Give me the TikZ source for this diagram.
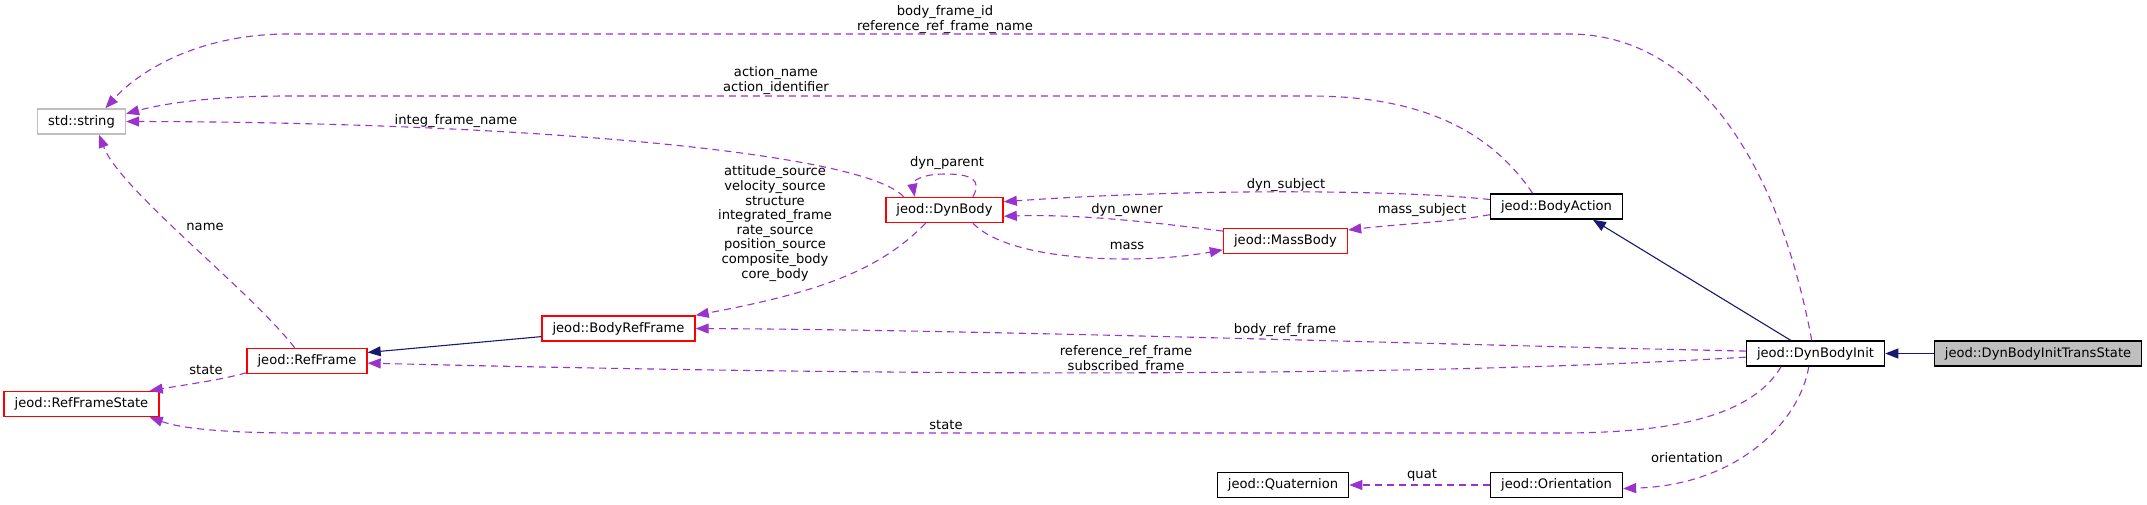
\documentclass[tikz,border=0pt]{standalone}
\usepackage{fontspec}
\setmainfont{DejaVu Sans}
\usetikzlibrary{arrows.meta}
\definecolor{usecol}{HTML}{9A32CD}
\definecolor{inhcol}{HTML}{191970}
\definecolor{trunccol}{HTML}{FF0000}
\definecolor{stdcol}{HTML}{BFBFBF}

\begin{document}
\begin{tikzpicture}[
    x=1pt, y=-1pt,
    cls/.style={
        rectangle, draw=#1, fill=white, line width=1.5pt,
        minimum height=25pt, inner xsep=10.5pt, inner ysep=0pt,
        font=\fontsize{13.1}{14.6}\selectfont
    },
    cls/.default=black,
    lbl/.style={font=\fontsize{13.1}{14.6}\selectfont, inner sep=0pt, align=center},
    use/.style={draw=usecol, line width=1.1pt, dash pattern=on 7pt off 5pt,
        -{Triangle[length=13pt,width=10pt]}},
    inh/.style={draw=inhcol, line width=1.1pt, -{Triangle[length=13pt,width=10pt]}}
]
\useasboundingbox (0,0) rectangle (2147,504);

% Classes
\node[cls=stdcol] (str) at (81.5,121.5) {std::string};
\node[cls=trunccol] (dynbody) at (944.5,210) {jeod::DynBody};
\node[cls=trunccol] (massbody) at (1285.5,241) {jeod::MassBody};
\node[cls] (bodyaction) at (1556.5,206.5) {jeod::BodyAction};
\node[cls=trunccol] (bodyref) at (618.5,328.5) {jeod::BodyRefFrame};
\node[cls=trunccol] (refframe) at (307,361) {jeod::RefFrame};
\node[cls=trunccol] (rfstate) at (81.5,404) {jeod::RefFrameState};
\node[cls] (init) at (1815.5,353.5) {jeod::DynBodyInit};
\node[cls, fill=stdcol] (trans) at (2038,353.5) {jeod::DynBodyInitTransState};
\node[cls] (quat) at (1283,485) {jeod::Quaternion};
\node[cls] (orient) at (1556.5,485) {jeod::Orientation};

% Inheritance
\draw[inh] (trans.west) -- (init.east);
\draw[inh] (init.152) -- (bodyaction.-20);
\draw[inh] (bodyref.186) -- (refframe.8);

% Usage to std::string
\draw[use] (init.106) .. controls (1780,170) and (1700,34) .. (1569,34) -- (288,34)
    .. controls (200,34) and (140,70) .. (str.29);
\node[lbl] (lframeid) at (945,19.5) {body\_frame\_id\\reference\_ref\_frame\_name};
\draw[use] (bodyaction.151) .. controls (1490,130) and (1420,96) .. (1310,96) -- (288,96)
    .. controls (220,96) and (170,102) .. (str.10);
\node[lbl] (lactname) at (776,80.5) {action\_name\\action\_identifier};
\draw[use] (dynbody.162) .. controls (860,150) and (500,122) .. (str.east);
\node[lbl] (linteg) at (456,121) {integ\_frame\_name};
\draw[use] (refframe.133) .. controls (250,290) and (120,190) .. (str.-37);
\node[lbl] (lname) at (205,227) {name};

% DynBody links
\draw[use] (dynbody.25) .. controls (982,180) and (972,174) .. (945,174)
    .. controls (920,174) and (912,182) .. (dynbody.156);
\node[lbl] (lparent) at (947,163) {dyn\_parent};
\draw[use] (bodyaction.174) .. controls (1400,190) and (1200,188) .. (dynbody.8);
\node[lbl] (lsubject) at (1286,185) {dyn\_subject};
\draw[use] (massbody.171) .. controls (1150,222) and (1080,214) .. (dynbody.-6);
\node[lbl] (lowner) at (1127,210) {dyn\_owner};
\draw[use] (dynbody.-25) .. controls (1010,262) and (1140,265) .. (massbody.188);
\node[lbl] (lmass) at (1127,246) {mass};
\draw[use] (bodyaction.187) .. controls (1450,222) and (1400,224) .. (massbody.10);
\node[lbl] (lmsubject) at (1422,210) {mass\_subject};
\draw[use] (dynbody.-145) .. controls (880,270) and (820,292) .. (bodyref.north east);
\node[lbl] (lsources) at (775,223.5) {attitude\_source\\velocity\_source\\structure\\integrated\_frame\\rate\_source\\position\_source\\composite\_body\\core\_body};

% DynBodyInit links
\draw[use] (init.178) .. controls (1450,345) and (1000,330) .. (bodyref.east);
\node[lbl] (lbodyref) at (1285,330) {body\_ref\_frame};
\draw[use] (init.183) .. controls (1400,378) and (900,376) .. (refframe.-2);
\node[lbl] (lrefframe) at (1126,359.5) {reference\_ref\_frame\\subscribed\_frame};
\draw[use] (refframe.191) .. controls (220,380) and (190,384) .. (rfstate.11);
\node[lbl] (lstate) at (206,370) {state};
\draw[use] (init.201) .. controls (1750,420) and (1660,433) .. (1560,433) -- (300,433)
    .. controls (220,433) and (180,428) .. (rfstate.-11);
\node[lbl] (linitstate) at (946,425) {state};
\draw[use] (init.-117) .. controls (1800,420) and (1740,485) .. (orient.-3);
\node[lbl] (lorient) at (1687,458) {orientation};
\draw[use] (orient.west) -- (quat.east);
\node[lbl] (lquat) at (1422,475) {quat};

\end{tikzpicture}
\end{document}
